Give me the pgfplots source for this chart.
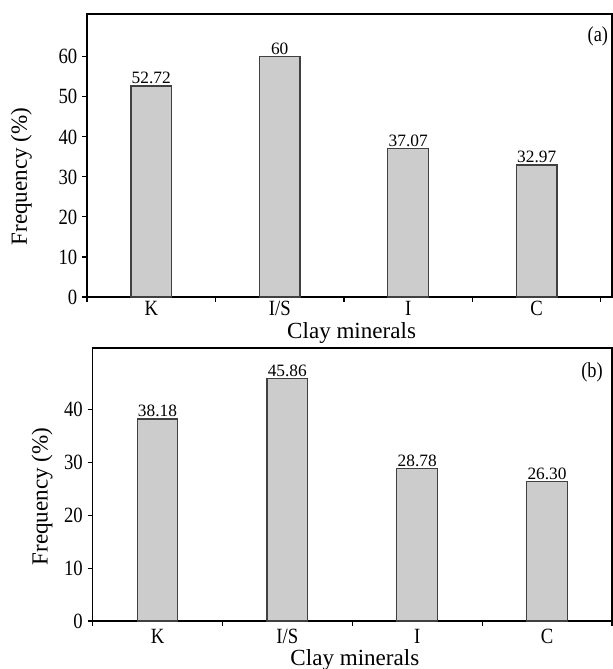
\documentclass[border=0pt]{standalone}
\usepackage{fontspec}
\setmainfont{Liberation Serif}
\newfontfamily\tickfont{Liberation Serif}[FakeStretch=0.86]
\usepackage{pgfplots}
\pgfplotsset{compat=1.18}
\usepackage{pgfplotstable}

\pgfplotstableread{
x y lab
0 52.72 52.72
1 60 60
2 37.07 37.07
3 32.97 32.97
}\dataA

\pgfplotstableread{
x y lab
0 38.18 38.18
1 45.86 45.86
2 28.78 28.78
3 26.30 26.30
}\dataB

\begin{document}
\begin{tikzpicture}
\path[use as bounding box] (0pt,0pt) rectangle (459.75pt,501.75pt);
\pgfplotsset{
 common/.style={
  scale only axis, anchor=south west,
  ybar, bar width=30.5pt,
  xmin=-0.5, ymin=0,
  xtick={-0.5,0.5,1.5,2.5,3.5},
  xticklabels={K,I/S,I,C,{}},
  tick align=outside, xtick pos=bottom, ytick pos=left,
  major tick length=3.75pt,
  axis line style={line width=0.9pt},
  tick style={black, line width=0.8pt},
  ticklabel style={font=\tickfont\fontsize{16.3}{16.3}\selectfont},
  label style={font=\fontsize{17.3}{17.3}\selectfont, inner sep=0pt},
  nodes near coords, point meta=explicit symbolic,
  every node near coord/.append style={font=\fontsize{13}{13}\selectfont, inner sep=1pt, text=black},
  /pgf/number format/assume math mode=true,
  xlabel={Clay minerals},
  ylabel={Frequency (\%)},
 }
}
\begin{axis}[common,
  at={(65.25pt,279pt)}, width=393.75pt, height=212.25pt,
  xmax=3.586, ymax=70.7,
  ytick={0,10,20,30,40,50,60},
  xticklabel style={xshift=48.2pt, yshift=1.5pt, inner sep=1pt},
  xlabel style={at={(axis description cs:0.504,-0.128)}, anchor=center},
  ylabel style={at={(axis description cs:-0.125,0.426)}, anchor=center},
]
\addplot[fill=gray!40, draw=black!75, line width=0.9pt] table[x=x,y=y,meta=lab]{\dataA};
\node[font=\tickfont\fontsize{16}{16}\selectfont] at (rel axis cs:0.973,0.922) {(a)};
\end{axis}

\begin{axis}[common,
  at={(69.4pt,36pt)}, width=389.6pt, height=204.75pt,
  xmax=3.5, ymax=51.6,
  ytick={0,10,20,30,40},
  xticklabel style={xshift=48.75pt, inner sep=2pt},
  xlabel style={at={(axis description cs:0.505,-0.143)}, anchor=center},
  ylabel style={at={(axis description cs:-0.097,0.456)}, anchor=center},
]
\addplot[fill=gray!40, draw=black!75, line width=0.9pt] table[x=x,y=y,meta=lab]{\dataB};
\node[font=\tickfont\fontsize{16}{16}\selectfont] at (rel axis cs:0.9615,0.91) {(b)};
\end{axis}
\end{tikzpicture}
\end{document}
